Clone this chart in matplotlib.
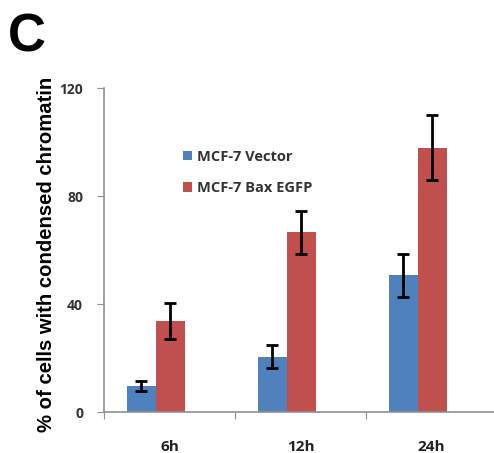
import numpy as np
import matplotlib
matplotlib.use("Agg")
import matplotlib.pyplot as plt

categories = ["6h", "12h", "24h"]
vector = [9.6, 20.5, 50.7]
vector_err = [2.0, 4.2, 8.0]
bax = [33.7, 66.5, 97.9]
bax_err = [6.5, 8.0, 12.0]
yticks = [0, 40, 80, 120]

W, H = 494, 453
fig = plt.figure(figsize=(W / 100, H / 100), dpi=100)
ax = fig.add_axes([104 / W, 41 / H, (494 - 104) / W, (412 - 88) / H])

x = np.arange(len(categories))
bw = 0.22
off = -0.105
ax.bar(x + off - bw / 2, vector, bw, color="#4F81BD", label="MCF-7 Vector")
ax.bar(x + off + bw / 2, bax, bw, color="#C0504D", label="MCF-7 Bax EGFP")
ax.errorbar(x + off - bw / 2, vector, yerr=vector_err, fmt="none", ecolor="black",
            elinewidth=2, capsize=4, capthick=2)
ax.errorbar(x + off + bw / 2, bax, yerr=bax_err, fmt="none", ecolor="black",
            elinewidth=2, capsize=4, capthick=2)

ax.set_xlim(-0.5, 2.477)
ax.set_ylim(0, 120)
for s in ["top", "right"]:
    ax.spines[s].set_visible(False)
for s in ["left", "bottom"]:
    ax.spines[s].set_color("#909090")
    ax.spines[s].set_linewidth(1.2)

ax.set_yticks(yticks)
ax.set_yticklabels([str(t) for t in yticks], fontsize=10, fontweight="bold",
                   color="#333333", family="Open Sans")
ax.tick_params(axis="y", direction="out", length=5, color="#909090", pad=10)

ax.set_xticks([-0.5, 0.5, 1.5], minor=False)
ax.set_xticklabels([])
ax.tick_params(axis="x", direction="out", length=5, color="#909090")
ax.set_xticks(x, minor=True)
ax.set_xticklabels(categories, minor=True, fontsize=11, fontweight="bold",
                   color="#222222", family="Open Sans")
ax.tick_params(axis="x", which="minor", length=0, pad=20)

fig.text(47 / W, 1 - 254 / H, "% of cells with condensed chromatin", rotation=90,
         ha="center", va="center", fontsize=14.6, fontweight="bold",
         family="Liberation Sans")
fig.text(8 / W, 1 - 52 / H, "C", ha="left", va="baseline", fontsize=38,
         fontweight="bold", family="Liberation Sans")

leg = ax.legend(loc="upper left", bbox_to_anchor=(0.17, 0.85), frameon=False,
                handlelength=0.6, handleheight=0.6, handletextpad=0.3,
                labelspacing=1.2, prop={"family": "Open Sans", "size": 10.5,
                                        "weight": "bold"})
for t in leg.get_texts():
    t.set_color("#333333")

fig.savefig("out.png", dpi=100)
